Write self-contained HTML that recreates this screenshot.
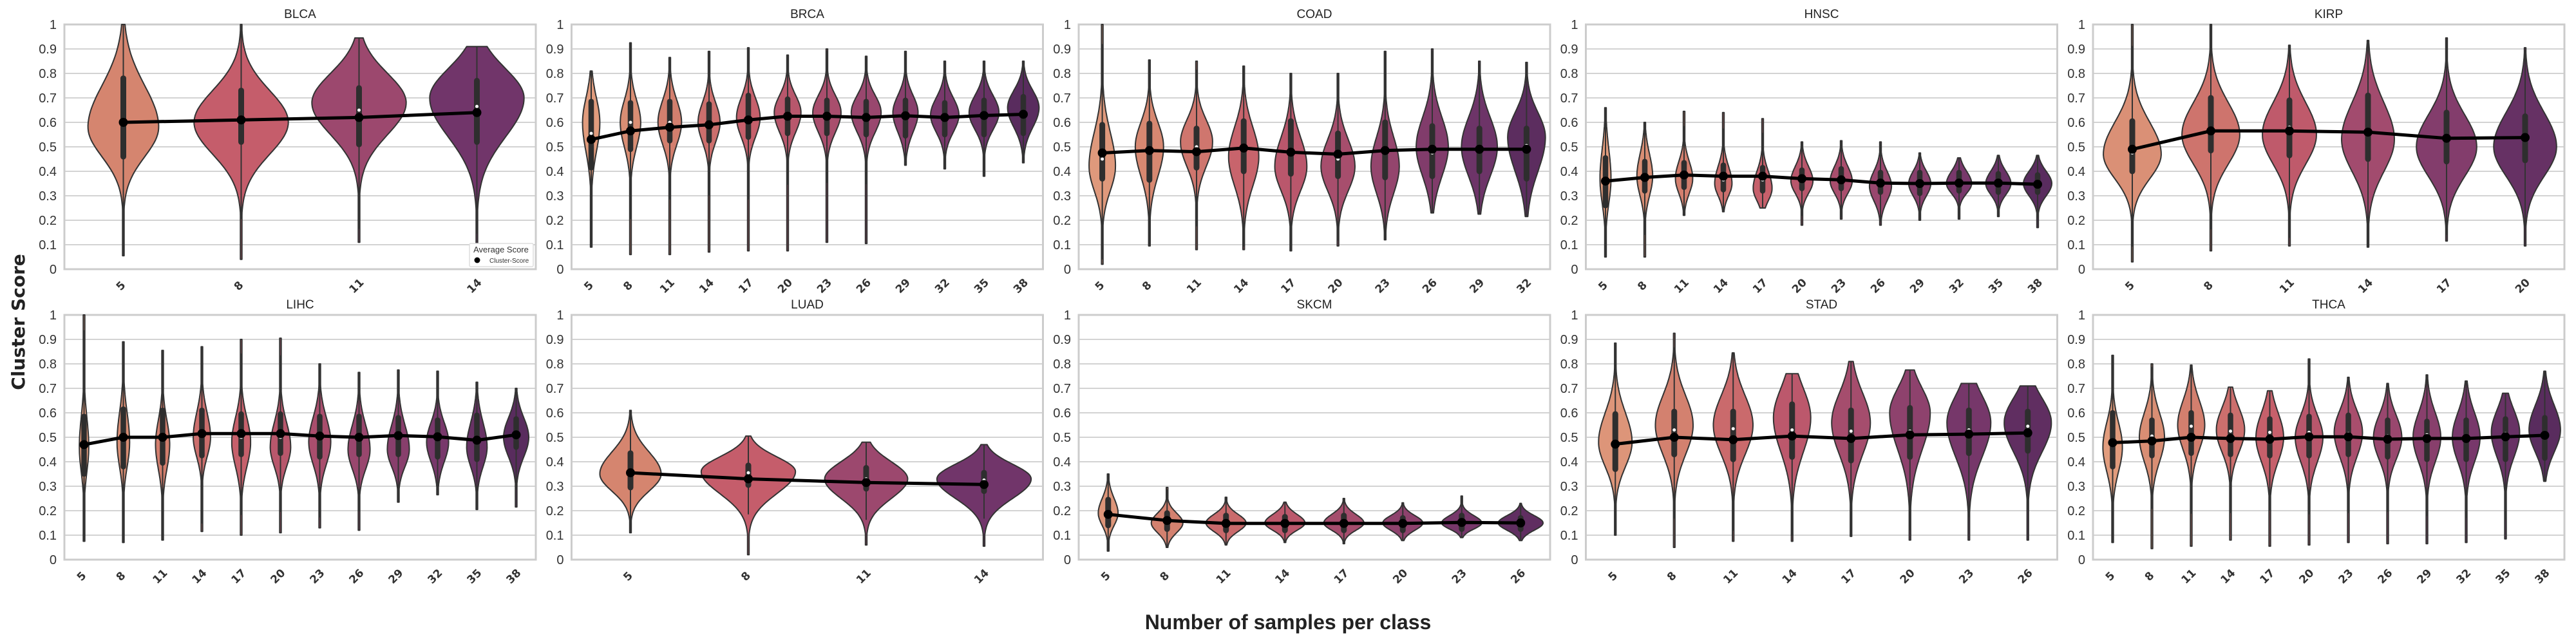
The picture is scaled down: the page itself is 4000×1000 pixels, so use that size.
<!DOCTYPE html>
<html><head><meta charset="utf-8"><style>
html,body{margin:0;padding:0;background:#fff;}
svg{display:block;}
</style></head><body>
<svg id="chart" width="4000" height="1000" viewBox="0 0 4000 1000" xmlns="http://www.w3.org/2000/svg">
<rect x="0" y="0" width="4000" height="1000" fill="#ffffff"/>
<text x="38" y="500" transform="rotate(-90 38 500)" text-anchor="middle" font-family="DejaVu Sans, sans-serif" font-weight="bold" font-size="28" fill="#222">Cluster Score</text>
<text x="2000" y="977" text-anchor="middle" font-family="Liberation Sans Narrow, Liberation Sans, sans-serif" font-weight="bold" font-size="32" fill="#222">Number of samples per class</text>
</svg>
<script>
// Panel data: columns per violin = [min, max, mode, sdLo, sdHi, widthFrac, q1, q3, median, mean]
const panelTitles = ["BLCA","BRCA","COAD","HNSC","KIRP","LIHC","LUAD","SKCM","STAD","THCA"];
const categories = {
 BLCA:[5,8,11,14],
 BRCA:[5,8,11,14,17,20,23,26,29,32,35,38],
 COAD:[5,8,11,14,17,20,23,26,29,32],
 HNSC:[5,8,11,14,17,20,23,26,29,32,35,38],
 KIRP:[5,8,11,14,17,20],
 LIHC:[5,8,11,14,17,20,23,26,29,32,35,38],
 LUAD:[5,8,11,14],
 SKCM:[5,8,11,14,17,20,23,26],
 STAD:[5,8,11,14,17,20,23,26],
 THCA:[5,8,11,14,17,20,23,26,29,32,35,38]
};
const BLCA = [
 [.055,1.0,.58,.12,.17,.75,.46,.78,.59,.60],
 [.04,1.0,.60,.13,.13,1.0,.52,.73,.62,.61],
 [.11,.945,.68,.13,.12,1.0,.51,.74,.65,.62],
 [.10,.91,.70,.16,.12,1.0,.52,.77,.665,.64]];
const BRCA = [
 [.09,.81,.60,.12,.10,.55,.415,.685,.555,.53],
 [.06,.925,.60,.10,.09,.65,.49,.68,.60,.565],
 [.06,.865,.60,.09,.09,.75,.525,.685,.60,.58],
 [.07,.89,.60,.08,.08,.70,.525,.675,.60,.59],
 [.075,.905,.62,.08,.08,.75,.54,.71,.62,.61],
 [.075,.875,.64,.08,.07,.85,.555,.695,.635,.625],
 [.11,.90,.64,.08,.07,.90,.555,.69,.63,.625],
 [.105,.87,.64,.08,.07,.95,.55,.685,.63,.62],
 [.425,.89,.64,.08,.07,.80,.545,.69,.62,.627],
 [.41,.85,.63,.07,.07,.90,.55,.68,.615,.62],
 [.38,.85,.64,.07,.07,.95,.55,.69,.635,.628],
 [.435,.85,.66,.08,.07,1.0,.555,.705,.635,.633]];
const COAD = [
 [.02,1.0,.42,.10,.14,.70,.37,.59,.45,.475],
 [.095,.855,.50,.12,.10,.75,.365,.595,.49,.485],
 [.08,.85,.52,.10,.09,.85,.415,.575,.50,.48],
 [.08,.83,.46,.12,.12,.80,.40,.605,.495,.495],
 [.075,.80,.42,.10,.12,.85,.39,.605,.47,.478],
 [.095,.80,.42,.10,.11,.90,.38,.555,.45,.47],
 [.12,.89,.42,.11,.12,.75,.375,.60,.475,.485],
 [.23,.90,.50,.12,.12,.85,.38,.585,.475,.49],
 [.225,.85,.50,.12,.12,.95,.40,.575,.49,.49],
 [.215,.845,.54,.14,.10,1.0,.37,.575,.505,.49]];
const HNSC = [
 [.05,.66,.37,.10,.12,.35,.26,.455,.37,.36],
 [.05,.60,.38,.08,.09,.50,.32,.44,.38,.375],
 [.22,.645,.37,.06,.07,.55,.335,.435,.38,.385],
 [.235,.64,.35,.05,.07,.55,.325,.425,.365,.38],
 [.25,.615,.33,.05,.07,.60,.32,.415,.365,.38],
 [.18,.52,.36,.05,.06,.70,.33,.405,.36,.37],
 [.205,.525,.36,.05,.06,.70,.33,.41,.365,.365],
 [.18,.52,.34,.06,.06,.70,.315,.395,.35,.352],
 [.20,.475,.35,.05,.05,.70,.31,.395,.35,.35],
 [.205,.455,.35,.04,.05,.80,.32,.395,.355,.352],
 [.215,.465,.35,.045,.05,.80,.315,.39,.35,.352],
 [.17,.465,.35,.05,.05,.90,.315,.385,.345,.347]];
const KIRP = [
 [.03,1.0,.47,.10,.13,.92,.40,.605,.475,.49],
 [.075,1.0,.55,.12,.13,.92,.485,.70,.565,.565],
 [.095,.915,.55,.12,.13,.86,.465,.69,.58,.565],
 [.09,.935,.53,.13,.15,.84,.45,.71,.565,.56],
 [.115,.945,.50,.12,.13,.96,.44,.64,.54,.535],
 [.095,.905,.50,.12,.14,1.0,.445,.625,.53,.538]];
const LIHC = [
 [.075,1.0,.46,.10,.12,.30,.35,.585,.46,.47],
 [.07,.89,.48,.10,.12,.40,.38,.615,.50,.50],
 [.08,.855,.47,.10,.10,.45,.395,.61,.50,.50],
 [.115,.87,.50,.08,.10,.55,.425,.61,.515,.515],
 [.10,.90,.48,.10,.10,.60,.43,.595,.50,.515],
 [.11,.905,.46,.08,.10,.65,.435,.595,.50,.515],
 [.13,.80,.48,.09,.10,.70,.42,.585,.495,.505],
 [.12,.765,.45,.08,.10,.70,.43,.585,.495,.50],
 [.235,.775,.45,.07,.10,.70,.43,.58,.50,.507],
 [.265,.77,.48,.08,.08,.70,.42,.57,.495,.502],
 [.205,.725,.46,.08,.10,.65,.41,.59,.49,.488],
 [.215,.70,.50,.08,.08,.80,.46,.575,.51,.51]];
const LUAD = [
 [.11,.61,.35,.07,.09,.65,.295,.435,.355,.355],
 [.02,.505,.36,.09,.06,1.0,.305,.385,.355,.33],
 [.06,.48,.33,.08,.07,.88,.29,.375,.33,.315],
 [.055,.47,.33,.08,.06,1.0,.28,.355,.325,.307]];
const SKCM = [
 [.035,.35,.19,.05,.06,.42,.14,.245,.19,.185],
 [.05,.295,.15,.04,.04,.67,.125,.19,.16,.16],
 [.06,.255,.15,.035,.035,.85,.12,.18,.145,.148],
 [.07,.235,.15,.03,.035,.85,.12,.175,.145,.148],
 [.065,.25,.15,.03,.035,.85,.12,.18,.145,.148],
 [.078,.232,.15,.03,.03,.85,.12,.17,.145,.148],
 [.09,.26,.15,.025,.03,.85,.125,.18,.15,.152],
 [.078,.23,.15,.03,.03,.95,.125,.17,.15,.15]];
const STAD = [
 [.10,.885,.48,.10,.12,.71,.37,.595,.475,.472],
 [.05,.925,.55,.12,.12,.80,.43,.605,.53,.50],
 [.075,.845,.55,.12,.12,.84,.41,.605,.535,.49],
 [.075,.76,.58,.14,.12,.79,.42,.635,.53,.505],
 [.095,.81,.56,.13,.12,.82,.405,.61,.525,.495],
 [.08,.775,.60,.15,.10,.86,.42,.62,.525,.51],
 [.08,.72,.56,.14,.11,.93,.435,.61,.53,.513],
 [.08,.71,.56,.12,.10,1.0,.445,.605,.545,.518]];
const THCA = [
 [.07,.835,.46,.10,.10,.62,.38,.60,.475,.478],
 [.045,.80,.50,.10,.10,.80,.425,.57,.505,.485],
 [.055,.795,.55,.10,.10,.86,.435,.60,.545,.50],
 [.08,.705,.53,.09,.09,.90,.43,.59,.525,.495],
 [.055,.69,.50,.10,.10,.88,.425,.575,.52,.492],
 [.06,.82,.50,.10,.09,.88,.425,.585,.52,.502],
 [.07,.745,.52,.10,.09,.90,.43,.59,.515,.502],
 [.065,.72,.50,.09,.09,.90,.42,.57,.505,.492],
 [.065,.755,.50,.10,.10,.88,.41,.565,.51,.495],
 [.07,.73,.50,.10,.10,.88,.41,.57,.505,.495],
 [.085,.68,.52,.10,.09,.90,.41,.575,.515,.502],
 [.32,.77,.53,.09,.10,1.0,.415,.58,.51,.508]];
const panelData = {BLCA,BRCA,COAD,HNSC,KIRP,LIHC,LUAD,SKCM,STAD,THCA};
const yTicks = [0,0.1,0.2,0.3,0.4,0.5,0.6,0.7,0.8,0.9,1];
const yTickLabels = ["0","0.1","0.2","0.3","0.4","0.5","0.6","0.7","0.8","0.9","1"];

const NS = "http://www.w3.org/2000/svg";
const svg = document.getElementById("chart");
function mk(tag, attrs, parent){
  const e = document.createElementNS(NS, tag);
  for (const k in attrs) e.setAttribute(k, attrs[k]);
  (parent||svg).appendChild(e);
  return e;
}
const stops = [[0,[232,170,134]],[0.2,[213,133,111]],[0.4,[197,93,107]],[0.6,[156,72,110]],[0.8,[113,53,106]],[1,[74,38,86]]];
function flare(t){
  for (let i=0;i<stops.length-1;i++){
    const a=stops[i], b=stops[i+1];
    if (t<=b[0]){
      const f=(t-a[0])/(b[0]-a[0]);
      const c=a[1].map((v,j)=>Math.round(v+(b[1][j]-v)*f));
      return "rgb("+c.join(",")+")";
    }
  }
  return "rgb(74,38,86)";
}

const panelW = 732, panelH = 380, pitch = 787.5;
panelTitles.forEach((name, p) => {
  const col = p % 5, row = Math.floor(p/5);
  const L = 100 + pitch*col, T = row===0 ? 38 : 489, B = T + panelH;
  const g = mk("g", {});
  
  
  const yS = v => B - v*panelH;
  const cats = categories[name], data = panelData[name], n = cats.length;
  const sp = panelW / n;
  const xS = i => L + sp*(i+0.5);
  yTicks.forEach((v, k) => {
    if (v>0 && v<1) {
      const gl = mk("line", {x1:L, x2:L+panelW, y1:yS(v), y2:yS(v), stroke:"#d3d3d3", "stroke-width":2}, g);
      
      
    }
    const t = mk("text", {x:L-12, y:yS(v)+7, "text-anchor":"end", "font-family":"Liberation Sans Narrow, Liberation Sans, sans-serif", "font-size":20, fill:"#333"}, g);
    t.textContent = yTickLabels[k];
    
    
  });
  const frame = mk("rect", {x:L, y:T, width:panelW, height:panelH, fill:"none", stroke:"#cccccc", "stroke-width":3}, g);
  
  
  const title = mk("text", {x:L+panelW/2, y:T-10, "text-anchor":"middle", "font-family":"Liberation Sans Narrow, Liberation Sans, sans-serif", "font-size":19, fill:"#222"}, g);
  title.textContent = name;
  
  
  data.forEach((d, i) => {
    const [mn, mx, mode, sLo, sHi, wf, q1, q3, med] = d;
    const cx = xS(i), hw = 0.4*sp*wf;
    const steps = 80, left = [], right = [];
    for (let s=0; s<=steps; s++){
      const v = mn + (mx-mn)*s/steps;
      const sd = v < mode ? sLo : sHi;
      const w = Math.max(hw*Math.exp(-0.5*Math.pow((v-mode)/sd,2)), 1.2);
      left.push((cx-w).toFixed(1)+","+yS(v).toFixed(1));
      right.unshift((cx+w).toFixed(1)+","+yS(v).toFixed(1));
    }
    const vp = mk("path", {d:"M"+left.join("L")+"L"+right.join("L")+"Z", fill:flare((i+1)/(n+1)), stroke:"#333", "stroke-width":2, "stroke-linejoin":"round"}, g);
    
    
    const iqr = q3-q1;
    const wlo = Math.max(mn, q1-1.5*iqr), whi = Math.min(mx, q3+1.5*iqr);
    const wl = mk("line", {x1:cx, x2:cx, y1:yS(wlo), y2:yS(whi), stroke:"#333", "stroke-width":2}, g);
    
    
    const bx = mk("line", {x1:cx, x2:cx, y1:yS(q1), y2:yS(q3), stroke:"#2e2e2e", "stroke-width":Math.min(9, sp*0.14), "stroke-linecap":"round"}, g);
    
    
    const md = mk("circle", {cx:cx, cy:yS(med), r:2.5, fill:"#fff"}, g);
    
    
    const tl = mk("text", {x:0, y:0, "text-anchor":"middle", "font-family":"DejaVu Sans, sans-serif", "font-weight":"bold", "font-size":17, fill:"#333", transform:"translate("+cx+","+(B+30)+") rotate(-45)"}, g);
    tl.textContent = cats[i];
    
    
  });
  const pts = data.map((d,i)=>xS(i).toFixed(1)+","+yS(d[9]).toFixed(1)).join(" ");
  const ml = mk("polyline", {points:pts, fill:"none", stroke:"#000", "stroke-width":5, "stroke-linejoin":"round"}, g);
  
  
  data.forEach((d,i)=>{
    const c = mk("circle", {cx:xS(i), cy:yS(d[9]), r:7, fill:"#000"}, g);
    
    
  });
  if (name === "BLCA") {
    const lg = mk("g", {}, g);
    
    
    mk("rect", {x:729, y:378, width:99, height:36, fill:"#fff", stroke:"#ddd", "stroke-width":1.5, rx:2}, lg);
    const lt = mk("text", {x:778, y:392, "text-anchor":"middle", "font-family":"Liberation Sans Narrow, Liberation Sans, sans-serif", "font-size":13, fill:"#333"}, lg);
    lt.textContent = "Average Score";
    
    
    const lm = mk("circle", {cx:741, cy:404, r:4.5, fill:"#000"}, lg);
    
    
    const le = mk("text", {x:760, y:408, "font-family":"Liberation Sans Narrow, Liberation Sans, sans-serif", "font-size":10, fill:"#333"}, lg);
    le.textContent = "Cluster-Score";
    
    
  }
});
</script>
</body></html>
